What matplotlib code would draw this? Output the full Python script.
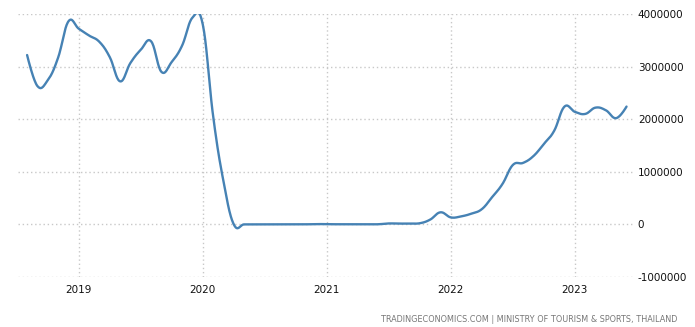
import numpy as np
import matplotlib.pyplot as plt

# monthly values, Aug 2018 .. Jun 2023 (tourist arrivals)
start_year, start_month = 2018, 8
arrivals = [
    3220000, 2630000, 2740000, 3170000, 3860000,
    3720000, 3590000, 3470000, 3180000, 2720000, 3070000,
    3320000, 3480000, 2900000, 3090000, 3400000, 3930000,
    3800000, 2060000, 820000, 0, 0, 0, 0, 0, 0, 1200, 1700, 6500,
    3900, 2600, 3100, 2400, 1500, 3000, 18000, 15000, 18000, 22000, 91000, 230000,
    133000, 153000, 205000, 290000, 520000, 770000, 1130000, 1170000, 1300000,
    1530000, 1780000, 2240000,
    2140000, 2100000, 2220000, 2170000, 2020000, 2240000,
]
year_ticks = [2019, 2020, 2021, 2022, 2023]
value_ticks = [-1000000, 0, 1000000, 2000000, 3000000, 4000000]
source = "TRADINGECONOMICS.COM | MINISTRY OF TOURISM & SPORTS, THAILAND"


def spline(xs, ys, smoothing=1.5, n=20):
    # highcharts-like bezier spline through the points
    xs = np.asarray(xs, float)
    ys = np.asarray(ys, float)
    k = len(xs)
    lc = np.zeros((k, 2))
    rc = np.zeros((k, 2))
    d = smoothing + 1
    for i in range(k):
        px, py = xs[i], ys[i]
        if i == 0 or i == k - 1:
            lc[i] = rc[i] = (px, py)
            continue
        lx = (smoothing * px + xs[i - 1]) / d
        ly = (smoothing * py + ys[i - 1]) / d
        rx = (smoothing * px + xs[i + 1]) / d
        ry = (smoothing * py + ys[i + 1]) / d
        corr = (ry - ly) * (rx - px) / (rx - lx) + py - ry
        lc[i] = (lx, ly + corr)
        rc[i] = (rx, ry + corr)
    t = np.linspace(0, 1, n)[:, None]
    out = []
    for i in range(k - 1):
        p0 = np.array([xs[i], ys[i]])
        p3 = np.array([xs[i + 1], ys[i + 1]])
        seg = ((1 - t) ** 3) * p0 + 3 * ((1 - t) ** 2) * t * rc[i] \
            + 3 * (1 - t) * t ** 2 * lc[i + 1] + t ** 3 * p3
        out.append(seg if i == 0 else seg[1:])
    out = np.vstack(out)
    return out[:, 0], out[:, 1]


months = np.arange(len(arrivals))
x = start_year + (start_month - 1 + months) / 12.0
sx, sy = spline(x, arrivals)

fig = plt.figure(figsize=(6.95, 3.27), dpi=100)
ax = fig.add_axes([18 / 695, 1 - 277 / 327, 617 / 695, 263 / 327])
ax.plot(sx, sy, color='#4682b4', lw=1.7, solid_capstyle='round')

ax.set_xlim(2018.51, 2023.485)
ax.set_ylim(-1000000, 4000000)
ax.set_xticks(year_ticks)
ax.set_xticklabels([str(y) for y in year_ticks])
ax.set_yticks(value_ticks)
ax.set_yticklabels([str(v) for v in value_ticks])
ax.yaxis.tick_right()
ax.tick_params(axis='both', length=0, labelsize=7.5, colors='#111111')
ax.tick_params(axis='y', pad=2)
ax.tick_params(axis='x', pad=6)
for s in ax.spines.values():
    s.set_visible(False)
ax.grid(True, color='#c8c8c8', linestyle=(0, (1, 2)), linewidth=1)
ax.set_axisbelow(True)

fig.text(677 / 695, 1 - 319 / 327, source, ha='right', va='center',
         fontsize=5.9, color='#777777')

fig.savefig('out.png', dpi=100)
